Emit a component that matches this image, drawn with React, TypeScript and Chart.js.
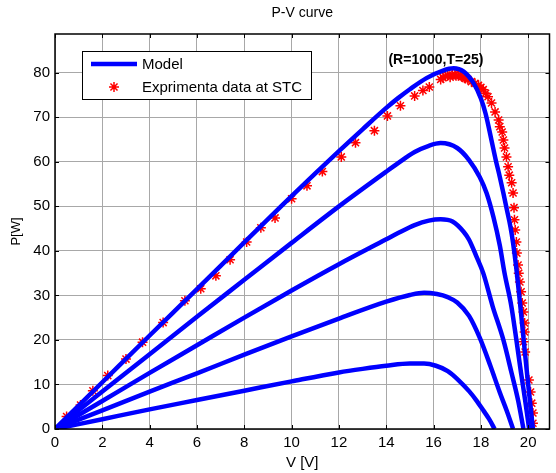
import React, { useEffect, useRef } from 'react';
import { Chart, registerables } from 'chart.js';

Chart.register(...registerables);

const FONT = "'Liberation Sans', Arial, Helvetica, sans-serif";

const TITLE = 'P-V curve';
const X_LABEL = 'V [V]';
const Y_LABEL = 'P[W]';
const ANNOTATION = '(R=1000,T=25)';
const LEGEND_MODEL = 'Model';
const LEGEND_DATA = 'Exprimenta data at STC';

const X_MIN = 0;
const X_MAX = 20.9;
const X_STEP = 2;
const Y_MIN = 0;
const Y_MAX = 88.7;
const Y_STEP = 10;
const ANNOT_V = 16.1;
const ANNOT_P = 82.9;

// Model curves (irradiance 1000, 800, 600, 400, 200 W/m2)
const V_1000 = [0, 2, 4, 6, 8, 10, 12, 13, 14, 14.5, 15, 15.7, 16.4, 16.85, 17.26, 17.7, 18.0, 18.2, 18.45, 18.62, 18.8, 18.95, 19.1, 19.25, 19.36, 19.5, 19.65, 19.8, 19.95, 20.1, 20.2];
const P_1000 = [0, 10.5, 21, 31.4, 41.9, 52.3, 62.4, 67.3, 72.1, 74.3, 76.3, 78.8, 80.5, 81, 80.3, 77.6, 74.2, 70.8, 64.8, 60.6, 56.6, 53, 49.2, 45.4, 41.8, 36, 28.5, 20.5, 12.5, 5, 0];

const V_800 = [0, 2, 4, 6, 8, 10, 12, 14, 14.5, 15.2, 15.8, 16.3, 17.0, 17.5, 17.95, 18.24, 18.53, 18.8, 19.0, 19.29, 19.5, 19.7, 19.87, 20.04];
const P_800 = [0, 8.4, 16.8, 25.2, 33.5, 41.8, 50, 57.8, 59.7, 62.2, 63.6, 64.2, 63.1, 60.4, 56.6, 53, 47.6, 41.2, 35, 27.5, 20, 12.5, 6.5, 0];

const V_600 = [0, 2, 4, 6, 8, 10, 12, 14, 14.5, 15.2, 15.8, 16.3, 16.8, 17.27, 17.5, 17.8, 18.1, 18.5, 18.95, 19.3, 19.57, 19.8];
const P_600 = [0, 6.3, 12.6, 18.8, 25, 31.1, 37, 42.6, 44, 45.8, 46.8, 47.1, 46.6, 44.3, 42.5, 38.9, 35, 27.5, 20, 12.5, 6.5, 0];

const V_400 = [0, 2, 4, 6, 8, 10, 12, 14, 15, 15.6, 16.14, 16.6, 17.0, 17.5, 17.95, 18.4, 18.8, 19.1, 19.36];
const P_400 = [0, 4.2, 8.4, 12.5, 16.7, 20.8, 24.8, 28.6, 30.1, 30.6, 30.3, 29.6, 28.4, 25.4, 20.5, 14.2, 8.2, 4, 0];

const V_200 = [0, 2, 4, 6, 8, 10, 12, 13, 14, 15, 15.6, 16.1, 16.6, 17.05, 17.5, 17.8, 18.1, 18.35, 18.58];
const P_200 = [0, 2.2, 4.4, 6.5, 8.6, 10.7, 12.7, 13.5, 14.2, 14.7, 14.7, 14.2, 13, 11, 8.5, 6.5, 4.2, 2.2, 0];

// Experimental data at STC
const EXP_V = [0.49, 1.08, 1.6, 2.23, 3.0, 3.7, 4.57, 5.49, 6.16, 6.8, 7.4, 8.1, 8.7, 9.3, 10.0, 10.65, 11.3, 12.1, 12.7, 13.5, 14.05, 14.6, 15.2, 15.55, 15.82, 16.3, 16.4, 16.5, 16.6, 16.7, 16.8, 16.9, 16.95, 17.05, 17.15, 17.2, 17.3, 17.35, 17.45, 17.6, 17.75, 17.9, 18.0, 18.1, 18.2, 18.3, 18.45, 18.6, 18.75, 18.8, 18.9, 18.95, 19.0, 19.08, 19.15, 19.2, 19.3, 19.36, 19.4, 19.42, 19.45, 19.5, 19.52, 19.57, 19.6, 19.65, 19.7, 19.75, 19.8, 19.85, 19.85, 19.8, 19.87, 20.03, 20.1, 20.15, 20.2, 20.2];
const EXP_P = [2.8, 5.4, 8.6, 12.0, 15.7, 19.5, 23.9, 28.8, 31.5, 34.4, 38, 42, 45.2, 47.4, 51.7, 54.6, 57.8, 61.1, 64.3, 67, 70.3, 72.6, 74.8, 76, 76.8, 78.5, 78.9, 79.2, 79.4, 79.0, 79.5, 79.6, 79.3, 79.3, 79.4, 79.1, 78.9, 78.7, 78.5, 78, 77.6, 77.2, 76.7, 76.2, 75.4, 74.6, 73.2, 71.2, 69.4, 67.9, 66.7, 64.9, 63.1, 61.1, 58.9, 57, 55.3, 53, 49.7, 47, 44.7, 42, 39.5, 36.8, 35, 33, 30.8, 28.3, 26.3, 23.8, 21.8, 19.6, 17.3, 11, 8.3, 5.8, 3.6, 1.3];

const BLUE = '#0000ff';
const RED = '#ff0000';

const toPts = (v: number[], p: number[]) => v.map((x, i) => ({ x, y: p[i] }));

const modelCurves: [number[], number[]][] = [
  [V_1000, P_1000],
  [V_800, P_800],
  [V_600, P_600],
  [V_400, P_400],
  [V_200, P_200],
];

function drawStar(ctx: CanvasRenderingContext2D, x: number, y: number, r: number) {
  const d = r * Math.SQRT1_2;
  ctx.beginPath();
  ctx.moveTo(x - r, y); ctx.lineTo(x + r, y);
  ctx.moveTo(x, y - r); ctx.lineTo(x, y + r);
  ctx.moveTo(x - d, y - d); ctx.lineTo(x + d, y + d);
  ctx.moveTo(x - d, y + d); ctx.lineTo(x + d, y - d);
  ctx.stroke();
}

const decorPlugin = {
  id: 'decor',
  afterDraw(chart: any) {
    const { ctx, chartArea: a, scales } = chart;
    const xs = scales.x;
    const ys = scales.y;
    ctx.save();
    // inward tick marks
    ctx.strokeStyle = '#000';
    ctx.lineWidth = 1;
    ctx.beginPath();
    xs.ticks.forEach((t: any) => {
      const px = Math.round(xs.getPixelForValue(t.value)) + 0.5;
      ctx.moveTo(px, a.bottom); ctx.lineTo(px, a.bottom - 4);
      ctx.moveTo(px, a.top); ctx.lineTo(px, a.top + 4);
    });
    ys.ticks.forEach((t: any) => {
      const py = Math.round(ys.getPixelForValue(t.value)) + 0.5;
      ctx.moveTo(a.left, py); ctx.lineTo(a.left + 4, py);
      ctx.moveTo(a.right, py); ctx.lineTo(a.right - 4, py);
    });
    ctx.stroke();
    // axes box
    ctx.lineWidth = 1.5;
    ctx.strokeRect(a.left, a.top, a.right - a.left, a.bottom - a.top);

    // annotation
    ctx.fillStyle = '#000';
    ctx.font = `bold 14px ${FONT}`;
    ctx.textAlign = 'center';
    ctx.textBaseline = 'middle';
    ctx.fillText(ANNOTATION, xs.getPixelForValue(ANNOT_V), ys.getPixelForValue(ANNOT_P));

    // legend
    const lx = a.left + 27;
    const ly = a.top + 17;
    const lw = 229;
    const lh = 48;
    ctx.fillStyle = '#fff';
    ctx.fillRect(lx, ly, lw, lh);
    ctx.strokeStyle = '#000';
    ctx.lineWidth = 1;
    ctx.strokeRect(lx + 0.5, ly + 0.5, lw, lh);
    const ds = chart.data.datasets;
    ctx.strokeStyle = ds[0].borderColor;
    ctx.lineWidth = 4.5;
    ctx.beginPath();
    ctx.moveTo(lx + 9, ly + 13);
    ctx.lineTo(lx + 55, ly + 13);
    ctx.stroke();
    const star = ds[ds.length - 1];
    ctx.strokeStyle = star.borderColor;
    ctx.lineWidth = star.borderWidth;
    drawStar(ctx, lx + 32, ly + 36, star.pointRadius);
    ctx.fillStyle = '#000';
    ctx.font = `15px ${FONT}`;
    ctx.textAlign = 'left';
    ctx.textBaseline = 'middle';
    ctx.fillText(ds[0].label, lx + 60, ly + 14);
    ctx.fillText(star.label, lx + 60, ly + 36.5);
    ctx.restore();
  },
};

export default function App() {
  const ref = useRef<HTMLCanvasElement>(null);

  useEffect(() => {
    if (!ref.current) return;
    const datasets: any[] = modelCurves.map(([v, p], i) => ({
      label: i === 0 ? LEGEND_MODEL : `Model ${i + 1}`,
      data: toPts(v, p),
      showLine: true,
      borderColor: BLUE,
      backgroundColor: BLUE,
      borderWidth: 4.5,
      pointRadius: 0,
      cubicInterpolationMode: 'monotone',
      clip: 0,
    }));
    datasets.push({
      label: LEGEND_DATA,
      data: toPts(EXP_V, EXP_P),
      showLine: false,
      pointStyle: 'star',
      pointRadius: 5,
      borderColor: RED,
      backgroundColor: RED,
      borderWidth: 1.5,
    });

    const chart = new Chart(ref.current, {
      type: 'scatter',
      data: { datasets },
      options: {
        animation: false,
        responsive: false,
        devicePixelRatio: 1,
        layout: { padding: { left: 0, right: 1, top: 0, bottom: 0 } },
        plugins: {
          legend: { display: false },
          tooltip: { enabled: false },
          title: {
            display: true,
            text: TITLE,
            fullSize: false,
            color: '#000',
            font: { family: FONT, size: 14, weight: 'normal' },
            padding: { top: 4.6, bottom: 12.6 },
          },
        },
        scales: {
          x: {
            type: 'linear',
            min: X_MIN,
            max: X_MAX,
            afterFit: (s: any) => { s.height = 44; },
            ticks: {
              stepSize: X_STEP,
              includeBounds: false,
              padding: 5,
              color: '#000',
              font: { family: FONT, size: 15 },
            },
            grid: { color: '#a8a8a8', lineWidth: 1, drawTicks: false },
            border: { display: false },
            title: {
              display: true,
              text: X_LABEL,
              color: '#000',
              font: { family: FONT, size: 15 },
              padding: { top: 0, bottom: 1 },
            },
          },
          y: {
            type: 'linear',
            min: Y_MIN,
            max: Y_MAX,
            afterFit: (s: any) => { s.width = 55; },
            ticks: {
              stepSize: Y_STEP,
              includeBounds: false,
              padding: 5,
              color: '#000',
              font: { family: FONT, size: 15 },
            },
            grid: { color: '#a8a8a8', lineWidth: 1, drawTicks: false },
            border: { display: false },
            title: {
              display: true,
              text: Y_LABEL,
              color: '#000',
              font: { family: FONT, size: 13 },
              padding: { top: 9, bottom: 0 },
            },
          },
        },
      } as any,
      plugins: [decorPlugin],
    });
    return () => chart.destroy();
  }, []);

  return (
    <div style={{ position: 'fixed', left: 0, top: 0, width: 556, height: 473, background: '#fff' }}>
      <canvas ref={ref} width={556} height={473} style={{ display: 'block', width: 556, height: 473 }} />
    </div>
  );
}
